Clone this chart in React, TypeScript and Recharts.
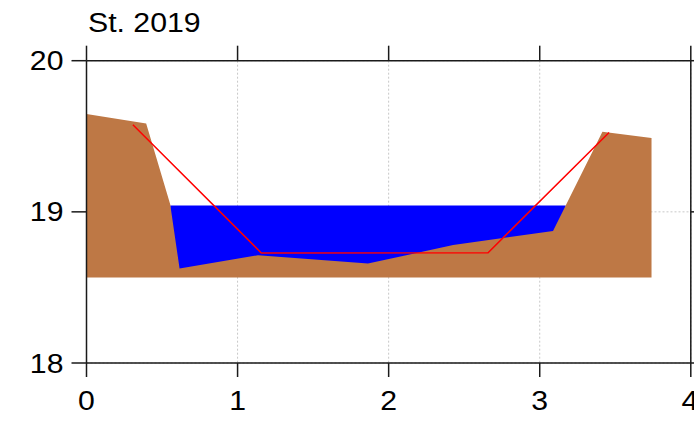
import React from 'react';
import {
  ComposedChart,
  Area,
  Line,
  XAxis,
  YAxis,
  CartesianGrid,
} from 'recharts';

// Cross-section profile (distance, elevation)
const groundX = [0, 0.395, 0.554, 0.616, 1.135, 1.863, 2.427, 3.088, 3.415, 3.74];
const groundY = [19.647, 19.585, 19.051, 18.625, 18.713, 18.658, 18.78, 18.874, 19.53, 19.488];
const groundBase = 18.565;

// Water surface extent
const waterX = [0.554, 3.172];
const waterY = [19.042, 19.042];
const waterBase = 18.6; // hidden under the ground anyway

// Design section (red)
const designX = [0.307, 1.157, 2.658, 3.459];
const designY = [19.576, 18.728, 18.73, 19.525];

const xTicks = [0, 1, 2, 3, 4];
const yTicks = [18, 19, 20];
const title = 'St. 2019';

const toPoints = (xs: number[], ys: number[]) => xs.map((x, i) => ({ x, y: ys[i] }));

const groundData = toPoints(groundX, groundY);
const waterData = toPoints(waterX, waterY);
const designData = toPoints(designX, designY);

const colors = {
  ground: '#be7845',
  water: '#0000ff',
  design: '#ff0000',
  frame: '#1a1a1a',
  grid: '#c8c8c8',
};

const font = '"Liberation Sans", Arial, sans-serif';
const fontSize = 27;
const stretch = 1.12; // the original lettering is a bit wide
const lineStyle = { stroke: colors.frame, strokeWidth: 1.5 };

// tick label, stretched horizontally
const WideTick = (props: any) => {
  const { x, y, payload, side } = props;
  const isLeft = side === 'left';
  return (
    <g transform={`translate(${x},${y})`}>
      <text
        transform={`scale(${stretch},1)`}
        textAnchor={isLeft ? 'end' : 'middle'}
        dy={isLeft ? '0.355em' : '0.71em'}
        fill="#000"
        fontSize={fontSize}
        fontFamily={font}
      >
        {payload.value}
      </text>
    </g>
  );
};

export default function App() {
  return (
    <div style={{ position: 'relative', width: 694, height: 422, background: '#fff' }}>
      <style>{'body{margin:0}'}</style>
      <div
        style={{
          position: 'absolute',
          left: 88,
          top: 10,
          fontFamily: font,
          fontSize,
          lineHeight: `${fontSize}px`,
          color: '#000',
          whiteSpace: 'nowrap',
          transform: `scaleX(${stretch})`,
          transformOrigin: 'left top',
        }}
      >
        {title}
      </div>
      <ComposedChart width={694} height={422} margin={{ top: 0, right: 0, bottom: 0, left: 0 }}>
        <CartesianGrid stroke={colors.grid} strokeDasharray="2 2" />
        <Area
          data={waterData}
          dataKey="y"
          type="linear"
          baseValue={waterBase}
          fill={colors.water}
          fillOpacity={1}
          stroke="none"
          isAnimationActive={false}
        />
        <Area
          data={groundData}
          dataKey="y"
          type="linear"
          baseValue={groundBase}
          fill={colors.ground}
          fillOpacity={1}
          stroke="none"
          isAnimationActive={false}
        />
        <Line
          data={designData}
          dataKey="y"
          xAxisId="top"
          yAxisId="right"
          type="linear"
          stroke={colors.design}
          strokeWidth={1.5}
          dot={false}
          isAnimationActive={false}
        />
        <XAxis
          dataKey="x"
          type="number"
          domain={[0, 4]}
          ticks={xTicks}
          allowDataOverflow
          height={59}
          tickSize={14}
          tickMargin={14}
          axisLine={lineStyle}
          tickLine={lineStyle}
          tick={<WideTick side="bottom" />}
        />
        <XAxis
          xAxisId="top"
          dataKey="x"
          orientation="top"
          type="number"
          domain={[0, 4]}
          ticks={xTicks}
          allowDataOverflow
          height={60.7}
          tickSize={15}
          tickFormatter={() => ''}
          axisLine={lineStyle}
          tickLine={lineStyle}
        />
        <YAxis
          type="number"
          domain={[18, 20]}
          ticks={yTicks}
          allowDataOverflow
          width={86.5}
          tickSize={15}
          tickMargin={8}
          axisLine={lineStyle}
          tickLine={lineStyle}
          tick={<WideTick side="left" />}
        />
        <YAxis
          yAxisId="right"
          orientation="right"
          type="number"
          domain={[18, 20]}
          ticks={yTicks}
          allowDataOverflow
          width={3.2}
          tickSize={15}
          tickFormatter={() => ''}
          axisLine={lineStyle}
          tickLine={lineStyle}
        />
      </ComposedChart>
    </div>
  );
}
